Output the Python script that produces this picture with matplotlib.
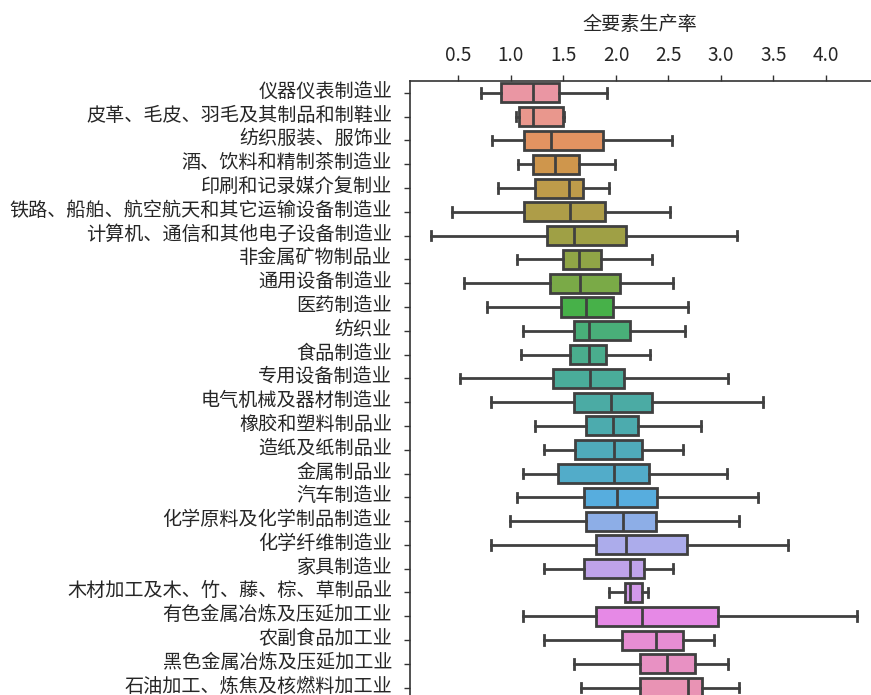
import matplotlib
matplotlib.use("Agg")
import matplotlib.pyplot as plt
from matplotlib.transforms import ScaledTranslation
import seaborn as sns

plt.rcParams['font.family'] = ['Noto Sans CJK SC', 'DejaVu Sans']

categories = ["仪器仪表制造业", "皮革、毛皮、羽毛及其制品和制鞋业", "纺织服装、服饰业", "酒、饮料和精制茶制造业",
              "印刷和记录媒介复制业", "铁路、船舶、航空航天和其它运输设备制造业", "计算机、通信和其他电子设备制造业",
              "非金属矿物制品业", "通用设备制造业", "医药制造业", "纺织业", "食品制造业", "专用设备制造业",
              "电气机械及器材制造业", "橡胶和塑料制品业", "造纸及纸制品业", "金属制品业", "汽车制造业",
              "化学原料及化学制品制造业", "化学纤维制造业", "家具制造业", "木材加工及木、竹、藤、棕、草制品业",
              "有色金属冶炼及压延加工业", "农副食品加工业", "黑色金属冶炼及压延加工业", "石油加工、炼焦及核燃料加工业"]

whislo = [0.716, 1.046, 0.824, 1.071, 0.875, 0.437, 0.237, 1.062, 0.557, 0.770, 1.113, 1.100, 0.516,
          0.808, 1.233, 1.316, 1.113, 1.059, 0.992, 0.808, 1.313, 1.934, 1.113, 1.313, 1.598, 1.668]
q1 = [0.909, 1.081, 1.125, 1.208, 1.230, 1.125, 1.347, 1.493, 1.373, 1.481, 1.598, 1.563, 1.398,
      1.598, 1.719, 1.611, 1.452, 1.693, 1.716, 1.814, 1.693, 2.090, 1.811, 2.062, 2.233, 2.233]
med = [1.211, 1.211, 1.382, 1.417, 1.554, 1.566, 1.601, 1.649, 1.658, 1.719, 1.747, 1.747, 1.754,
       1.957, 1.970, 1.985, 1.985, 2.014, 2.065, 2.093, 2.131, 2.134, 2.249, 2.382, 2.487, 2.687]
q3 = [1.459, 1.500, 1.880, 1.646, 1.684, 1.896, 2.096, 1.858, 2.039, 1.970, 2.131, 1.909, 2.080,
      2.344, 2.213, 2.252, 2.318, 2.394, 2.385, 2.674, 2.265, 2.252, 2.975, 2.636, 2.750, 2.817]
whishi = [1.918, 1.506, 2.531, 1.989, 1.938, 2.515, 3.150, 2.347, 2.540, 2.690, 2.661, 2.328, 3.070,
          3.397, 2.807, 2.636, 3.058, 3.349, 3.175, 3.635, 2.540, 2.302, 4.298, 2.934, 3.070, 3.175]

xticks = [0.5, 1.0, 1.5, 2.0, 2.5, 3.0, 3.5, 4.0]
xlabel = "全要素生产率"

n = len(categories)
colors = [sns.desaturate(c, 0.75) for c in sns.husl_palette(n, l=.7)]
gray = "#404040"
lw = 2.0
fs = 13.75
txtcolor = "#262626"

W, H = 871, 695
fig = plt.figure(figsize=(W / 100, H / 100), dpi=100)
left_px, right_px, top_px, bot_px = 409.5, 871, 81.0, 699.5
ax = fig.add_axes([left_px / W, 1 - bot_px / H, (right_px - left_px) / W, (bot_px - top_px) / H])

stats = []
for i in range(n):
    stats.append(dict(whislo=whislo[i], q1=q1[i], med=med[i], q3=q3[i], whishi=whishi[i], fliers=[]))

bp = ax.bxp(stats, positions=list(range(n)), widths=0.8, vert=False, patch_artist=True,
            showfliers=False,
            boxprops=dict(edgecolor=gray, linewidth=lw),
            medianprops=dict(color=gray, linewidth=lw),
            whiskerprops=dict(color=gray, linewidth=lw),
            capprops=dict(color=gray, linewidth=lw))
for patch, c in zip(bp['boxes'], colors):
    patch.set_facecolor(c)

ax.set_ylim(n - 0.5, -0.5)
ax.set_yticks(range(n))
ax.set_yticklabels(categories, fontsize=fs, color=txtcolor)
ax.set_xlim(0.035, (right_px - 405.77) / 105.06)
ax.set_xticks(xticks)
ax.set_xticklabels([f"{t:.1f}" for t in xticks], fontsize=fs, color=txtcolor)
ax.xaxis.set_ticks_position('top')
ax.xaxis.set_label_position('top')
ax.set_xlabel(xlabel, fontsize=fs, labelpad=11, color=txtcolor)
ax.tick_params(axis='x', length=4.5, width=1, color='#333333', pad=6)
ax.tick_params(axis='y', length=4.5, width=1, color='#333333', pad=8)
for s in ['right', 'bottom']:
    ax.spines[s].set_visible(False)
for s in ['top', 'left']:
    ax.spines[s].set_linewidth(1.2)
    ax.spines[s].set_color('#333333')

shift = ScaledTranslation(0, 4 / 100, fig.dpi_scale_trans)
for lab in ax.get_yticklabels():
    lab.set_transform(lab.get_transform() + shift)

fig.savefig("out.png", dpi=100)
